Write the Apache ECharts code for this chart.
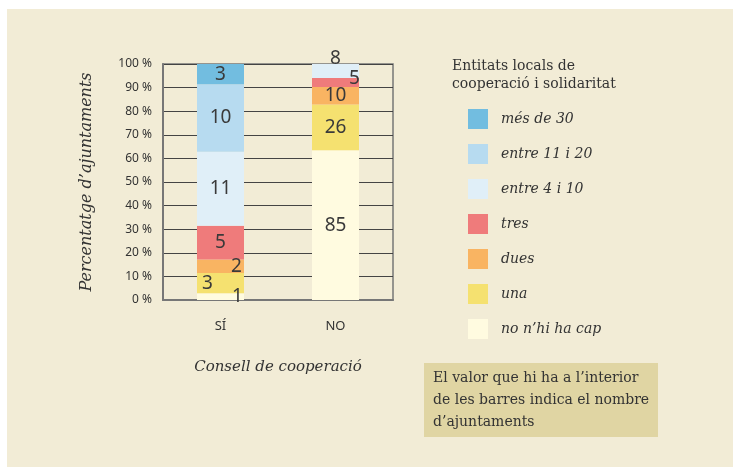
<!DOCTYPE html>
<html>
<head>
<meta charset="utf-8">
<script src="https://cdn.jsdelivr.net/npm/echarts@6/dist/echarts.min.js"></script>
<style>
  html, body { margin: 0; padding: 0; background: #fff; }
  #main { width: 733px; height: 467px; }
</style>
</head>
<body>
<div id="main"></div>
<script>
// categories and groups (bottom of the stack first)
const categories = ["SÍ", "NO"];
const groups = ["no n’hi ha cap", "una", "dues", "tres", "entre 4 i 10", "entre 11 i 20", "més de 30"];
// number of ajuntaments in each group
const siCounts = [1, 3, 2, 5, 11, 10, 3];
const noCounts = [85, 26, 10, 5, 8, 0, 0];
const yTicks = [0, 10, 20, 30, 40, 50, 60, 70, 80, 90, 100];

const colors = ["#fffbe0", "#f5e170", "#f9b462", "#ef7b7b", "#e0eff8", "#b7dbf0", "#72bde0"];

const sum = (a) => a.reduce((s, v) => s + v, 0);
const siTotal = sum(siCounts);
const noTotal = sum(noCounts);

// hand placed labels for the thin segments
const labelTweaks = {
  "0-0": [17, 0],
  "0-1": [-13, 0],
  "0-2": [16, 0],
  "1-3": [19, -4],
  "1-4": [0, -12],
};

let chart = echarts.init(document.getElementById("main"));

let series = groups.map((g, i) => {
  let counts = [siCounts[i], noCounts[i]];
  let totals = [siTotal, noTotal];
  return {
    name: g,
    type: "bar",
    stack: "total",
    barWidth: 47,
    itemStyle: { color: colors[i] },
    label: {
      show: true,
      position: "inside",
      fontFamily: "Noto Sans",
      fontSize: 19,
      color: "#3a3a3a",
      formatter: (p) => counts[p.dataIndex],
    },
    data: counts.map((c, j) => {
      let d = { value: (c / totals[j]) * 100 };
      if (c === 0) d.label = { show: false };
      let off = labelTweaks[j + "-" + i];
      if (off) d.label = { offset: off };
      return d;
    }),
  };
});

let option = {
  backgroundColor: "#fff",
  animation: false,
  title: {
    text: "Entitats locals de\ncooperació i solidaritat",
    left: 452,
    top: 57,
    padding: 0,
    textStyle: {
      fontFamily: "DejaVu Serif",
      fontWeight: "normal",
      fontSize: 14,
      lineHeight: 18,
      color: "#333",
    },
  },
  legend: {
    orient: "vertical",
    left: 468,
    top: 109,
    padding: 0,
    itemWidth: 20,
    itemHeight: 20,
    itemGap: 15,
    icon: "rect",
    data: groups.slice().reverse(),
    textStyle: {
      fontFamily: "DejaVu Serif",
      fontStyle: "italic",
      fontSize: 14,
      color: "#333",
      padding: [0, 0, 0, 8],
    },
  },
  grid: {
    left: 163,
    right: 340,
    top: 64,
    bottom: 167,
    show: true,
    borderColor: "#777",
    borderWidth: 1.5,
  },
  xAxis: {
    type: "category",
    data: categories,
    name: "Consell de cooperació",
    nameLocation: "middle",
    nameGap: 60,
    nameTextStyle: {
      fontFamily: "DejaVu Serif",
      fontStyle: "italic",
      fontSize: 15,
      color: "#333",
    },
    axisTick: { show: false },
    axisLine: { lineStyle: { color: "#777", width: 2 } },
    axisLabel: { margin: 20, fontFamily: "Noto Sans", fontSize: 13, color: "#333" },
  },
  yAxis: {
    type: "value",
    min: yTicks[0],
    max: yTicks[yTicks.length - 1],
    interval: yTicks[1] - yTicks[0],
    name: "Percentatge d’ajuntaments",
    nameLocation: "middle",
    nameRotate: 90,
    nameGap: 68,
    nameTextStyle: {
      fontFamily: "DejaVu Serif",
      fontStyle: "italic",
      fontSize: 16,
      color: "#333",
    },
    axisLine: { show: true, lineStyle: { color: "#777", width: 2 } },
    axisTick: { show: false },
    axisLabel: { margin: 11, fontFamily: "Noto Sans", fontSize: 12, color: "#333", formatter: "{value} %" },
    splitLine: { lineStyle: { color: "#444", width: 1 } },
  },
  graphic: [
    {
      type: "rect",
      z: -100,
      shape: { x: 7, y: 9, width: 726, height: 458 },
      style: { fill: "#f2ecd6" },
    },
    {
      type: "rect",
      shape: { x: 424, y: 363, width: 234, height: 74 },
      style: { fill: "#e0d5a3" },
    },
    {
      type: "text",
      left: 433,
      top: 367,
      style: {
        text: "El valor que hi ha a l’interior\nde les barres indica el nombre\nd’ajuntaments",
        font: "14px 'DejaVu Serif'",
        lineHeight: 22,
        fill: "#333",
      },
    },
  ],
  series: series,
};

chart.setOption(option);
</script>
</body>
</html>
